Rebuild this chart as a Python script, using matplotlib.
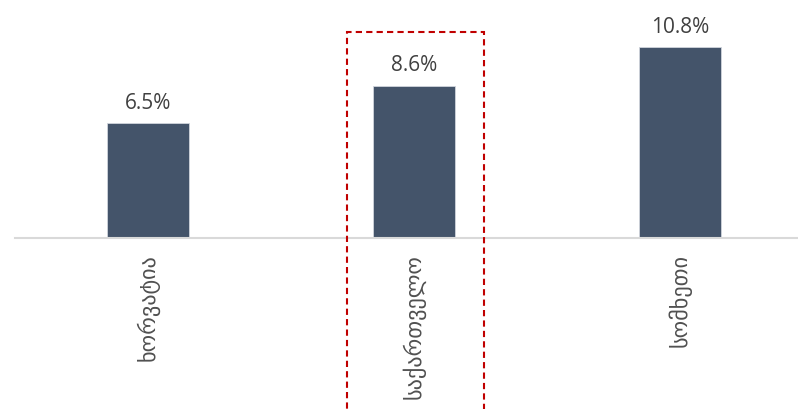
import matplotlib.pyplot as plt
from matplotlib.patches import Rectangle

countries = ['ხორვატია', 'საქართველო', 'სომხეთი']
values = [6.5, 8.6, 10.8]
highlight = 1

plt.rcParams['font.family'] = ['Open Sans', 'DejaVu Sans']

W, H = 798, 410
fig = plt.figure(figsize=(W / 100, H / 100), dpi=100)
ax = fig.add_axes([15 / W, 171 / H, 798 / W, 212 / H])

x = list(range(len(countries)))
ax.bar(x, values, width=0.31, color='#44546A', edgecolor='#D0D5DC', linewidth=0.6, zorder=2)
for xi, v in zip(x, values):
    ax.text(xi, v + 0.6, f'{v:.1f}%', ha='center', va='bottom', fontsize=15, color='#404040')

ax.set_xlim(-0.5, 2.5)
ax.set_ylim(0, 12)
ax.set_yticks([])
ax.set_xticks(x)
ax.set_xticklabels(countries, rotation=90, fontsize=16, color='#505050', family='DejaVu Sans')
ax.tick_params(axis='x', length=0, pad=11)
for s in ['top', 'right', 'left']:
    ax.spines[s].set_visible(False)
ax.spines['bottom'].set_color('#D9D9D9')
ax.spines['bottom'].set_linewidth(1.5)

# highlighted category box
box = Rectangle((highlight - 0.252, -12), 0.515, 23.64, fill=False, edgecolor='#C00000',
                linestyle=(0, (3, 2)), linewidth=1.5, clip_on=False, zorder=3)
ax.add_patch(box)

fig.savefig('out.png', dpi=100)
